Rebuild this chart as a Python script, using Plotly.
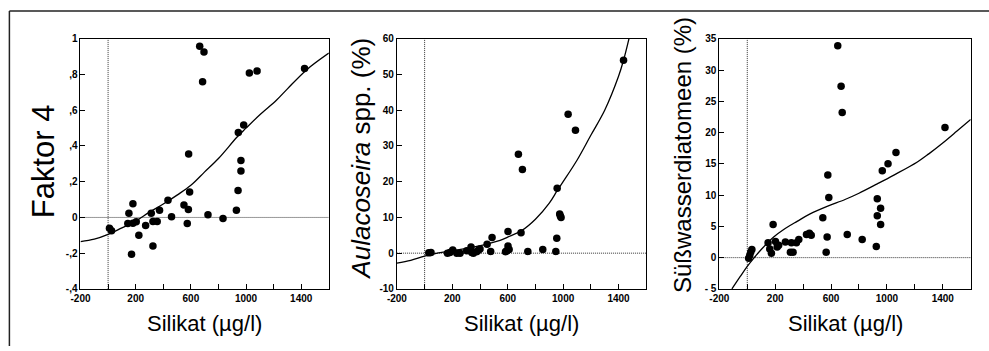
import plotly.graph_objects as go

# ---------------- data ----------------
# Panel 1: Faktor 4
f4_x = [664, 695, 685, 1024, 1080, 1424, 983, 944, 584, 963, 963, 591, 942, 930, 434, 550, 582, 373,
        313, 180, 151, 460, 724, 833, 10, 25, 143, 180, 204, 272, 325, 356, 574, 223, 325, 170]
f4_y = [0.958, 0.926, 0.76, 0.809, 0.82, 0.834, 0.517, 0.475, 0.355, 0.319, 0.26, 0.143, 0.151, 0.04,
        0.096, 0.07, 0.045, 0.04, 0.023, 0.077, 0.023, 0.004, 0.015, -0.006, -0.06, -0.075, -0.034,
        -0.032, -0.024, -0.045, -0.023, -0.023, -0.034, -0.10, -0.16, -0.206]
f4_fit_x = [-200, -100, 0, 100, 200, 300, 400, 500, 600, 700, 800, 935, 1000, 1100, 1220, 1300, 1438, 1600]
f4_fit_y = [-0.135, -0.122, -0.095, -0.058, -0.02, 0.03, 0.075, 0.125, 0.18, 0.255, 0.33, 0.45, 0.5,
            0.575, 0.656, 0.72, 0.826, 0.92]

# Panel 2: Aulacoseira spp. (%)
au_x = [1436, 1036, 1089, 677, 706, 957, 975, 985, 980, 696, 602, 487, 954, 451, 602, 400, 335, 304,
        477, 593, 584, 610, 745, 853, 947, 46, 183, 203, 232, 256, 340, 376, 165, 352, 30, 388]
au_y = [54.0, 38.9, 34.4, 27.7, 23.4, 18.2, 11.0, 10.0, 10.4, 5.7, 6.1, 4.4, 4.2, 2.5, 2.0, 1.2, 1.7,
        0.7, 0.5, 0.7, 0.4, 1.0, 0.5, 1.0, 0.5, 0.2, 0.2, 0.9, 0.0, 0.0, 0.2, 0.4, 0.0, 0.0, 0.1, 0.8]
au_fit_x = [-200, -100, 0, 100, 207, 376, 545, 600, 700, 800, 900, 957, 1000, 1100, 1200, 1300, 1400, 1436, 1475]
au_fit_y = [-2.8, -2.0, -0.8, 0.1, 0.7, 1.9, 3.6, 4.5, 6.3, 9.5, 14.0, 17.5, 20.0, 26.0, 33.0, 40.0,
            49.5, 54.0, 60.0]

# Panel 3: Süßwasserdiatomeen (%)
sw_x = [10, 18, 25, 33, 149, 161, 173, 185, 202, 214, 225, 273, 316, 309, 328, 352, 369, 424, 445, 458,
        541, 577, 584, 572, 565, 716, 823, 924, 931, 931, 955, 955, 967, 1008, 1065, 1416, 648, 672, 680]
sw_y = [-0.1, 0.4, 0.9, 1.3, 2.4, 1.4, 0.7, 5.3, 2.6, 1.7, 2.0, 2.5, 2.4, 0.85, 0.85, 2.4, 2.9, 3.7, 3.9,
        3.6, 6.4, 13.2, 9.6, 3.3, 0.85, 3.7, 2.9, 1.8, 9.4, 6.7, 7.9, 5.3, 13.9, 15.0, 16.8, 20.8, 33.9,
        27.4, 23.2]
sw_fit_x = [-110, -50, 0, 50, 100, 189, 261, 357, 450, 572, 700, 800, 931, 1050, 1218, 1300, 1409, 1500, 1600]
sw_fit_y = [-5.0, -3.0, -1.4, 0.0, 1.3, 3.3, 4.5, 5.8, 7.0, 8.2, 9.3, 10.3, 11.8, 13.2, 15.3, 16.6, 18.5,
            20.2, 22.1]

x_tickvals = [-200, 0, 200, 400, 600, 800, 1000, 1200, 1400, 1600]
x_ticktext = ["-200", "", "200", "", "600", "", "1000", "", "1400", ""]

f4_tickvals = [1, 0.8, 0.6, 0.4, 0.2, 0, -0.2, -0.4]
f4_ticktext = ["1", ",8", ",6", ",4", ",2", "0", "-,2", "-,4"]
au_tickvals = [60, 50, 40, 30, 20, 10, 0, -10]
au_ticktext = ["60", "50", "40", "30", "20", "10", "0", "-10"]
sw_tickvals = [35, 30, 25, 20, 15, 10, 5, 0, -5]
sw_ticktext = ["35", "30", "25", "20", "15", "10", "5", "0", "- 5"]

x_title = "Silikat (µg/l)"
y_titles = ["Faktor 4", "<i>Aulacoseira</i> spp. (%)", "Süßwasserdiatomeen (%)"]

# ---------------- figure ----------------
W, H = 989, 351
# Plotly widens the margins slightly on its own here; convert target pixel
# positions into fractions of the resulting plot area.
OX, SX = 10.6, 977.7
OY, SY = 6.1, 336.8
fx_ = lambda p: (p - OX) / SX
fy_ = lambda p: 1 - (p - OY) / SY

fig = go.Figure()

panels = [
    (f4_x, f4_y, f4_fit_x, f4_fit_y, "x", "y"),
    (au_x, au_y, au_fit_x, au_fit_y, "x2", "y2"),
    (sw_x, sw_y, sw_fit_x, sw_fit_y, "x3", "y3"),
]
for px, py, fx, fy, xa, ya in panels:
    fig.add_trace(go.Scatter(x=fx, y=fy, mode="lines", line=dict(color="black", width=1.3, shape="spline"),
                             xaxis=xa, yaxis=ya, showlegend=False, hoverinfo="skip"))
    fig.add_trace(go.Scatter(x=px, y=py, mode="markers", marker=dict(color="black", size=7.5),
                             xaxis=xa, yaxis=ya, showlegend=False, cliponaxis=False))

px_dom = [(81, 329), (397, 646), (719, 970)]
top_px, bot_px = 39.5, 286.5
ydom = [fy_(bot_px), fy_(top_px)]

tickfont = dict(family="Liberation Sans, Arial, sans-serif", size=10, color="black")
bold = lambda lst: [f"<b>{t}</b>" if t else "" for t in lst]

def xaxis_cfg(i):
    d = px_dom[i]
    return dict(domain=[fx_(d[0]), fx_(d[1])], range=[-200, 1600], anchor="y" if i == 0 else f"y{i+1}",
                tickmode="array", tickvals=x_tickvals, ticktext=bold(x_ticktext),
                ticks="inside", ticklen=5, tickwidth=1, tickcolor="black",
                showline=True, linecolor="black", linewidth=1, mirror=True,
                showgrid=False, zeroline=False, tickfont=tickfont)

def yaxis_cfg(i, rng, tv, tt):
    return dict(domain=ydom, range=rng, anchor="x" if i == 0 else f"x{i+1}",
                tickmode="array", tickvals=tv, ticktext=bold(tt),
                ticks="inside", ticklen=5, tickwidth=1, tickcolor="black",
                showline=True, linecolor="black", linewidth=1, mirror=True,
                showgrid=False, zeroline=False, tickfont=tickfont)

fig.update_layout(
    width=W, height=H, margin=dict(l=0, r=0, t=0, b=0),
    paper_bgcolor="white", plot_bgcolor="white",
    xaxis=xaxis_cfg(0), xaxis2=xaxis_cfg(1), xaxis3=xaxis_cfg(2),
    yaxis=yaxis_cfg(0, [-0.4, 1], f4_tickvals, f4_ticktext),
    yaxis2=yaxis_cfg(1, [-10, 60], au_tickvals, au_ticktext),
    yaxis3=yaxis_cfg(2, [-5, 35], sw_tickvals, sw_ticktext),
)

for i in range(3):
    xr = "x" if i == 0 else f"x{i+1}"
    yr = "y" if i == 0 else f"y{i+1}"
    fig.add_shape(type="line", xref=xr, yref=f"{yr} domain", x0=0, x1=0, y0=0, y1=1,
                  line=dict(color="#333", width=1, dash="1px,1px"), layer="below")
    fig.add_shape(type="line", xref=f"{xr} domain", yref=yr, x0=0, x1=1, y0=0, y1=0,
                  line=dict(color="#333", width=1, dash="1px,1px"), layer="below")

# outer frame (top and left)
fig.add_shape(type="line", xref="paper", yref="paper", x0=fx_(10), x1=1, y0=fy_(12), y1=fy_(12),
              line=dict(color="#222", width=1.5))
fig.add_shape(type="line", xref="paper", yref="paper", x0=fx_(10), x1=fx_(10), y0=0, y1=fy_(12),
              line=dict(color="#222", width=1.5))

titlefont = "Liberation Sans, Arial, sans-serif"
for d in px_dom:
    fig.add_annotation(text=x_title, xref="paper", yref="paper", x=fx_((d[0] + d[1]) / 2), y=fy_(321),
                       showarrow=False, font=dict(family=titlefont, size=22, color="black"),
                       xanchor="center", yanchor="middle")
ytitle_pos = [(44, 160, 31), (361, 158, 26), (682, 154, 24)]
for t, (xp, yp, fs) in zip(y_titles, ytitle_pos):
    fig.add_annotation(text=t, xref="paper", yref="paper", x=fx_(xp), y=fy_(yp), textangle=-90,
                       showarrow=False, font=dict(family=titlefont, size=fs, color="black"),
                       xanchor="center", yanchor="middle")

fig.write_html("out.html")
